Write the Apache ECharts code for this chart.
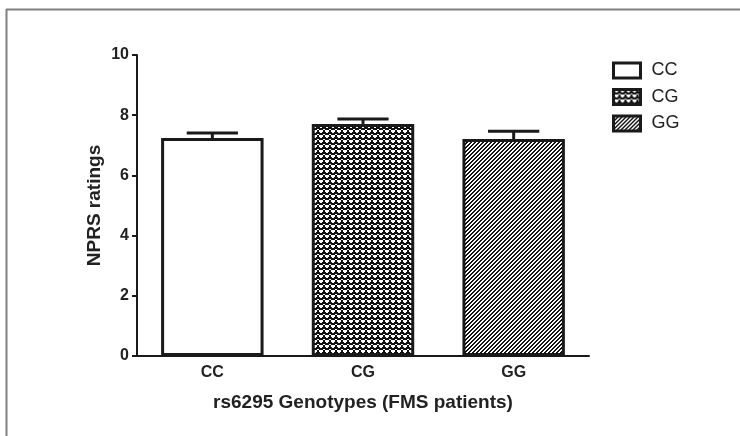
<!DOCTYPE html>
<html><head><meta charset="utf-8">
<script src="https://cdn.jsdelivr.net/npm/echarts@6/dist/echarts.min.js"></script>
<style>html,body{margin:0;padding:0;background:#fff}#c{width:740px;height:436px}</style>
</head><body><div id="c"></div>
<script>
var categories = ['CC', 'CG', 'GG'];
var means = [7.24, 7.71, 7.21];
var sems = [0.17, 0.16, 0.26];
var yTicks = [0, 2, 4, 6, 8, 10];
var xTitle = 'rs6295 Genotypes (FMS patients)';
var yTitle = 'NPRS ratings';

function tile(w, h, fn) {
  var c = document.createElement('canvas'); c.width = w; c.height = h;
  var ctx = c.getContext('2d');
  ctx.fillStyle = '#fff'; ctx.fillRect(0, 0, w, h);
  ctx.fillStyle = '#111';
  for (var y = 0; y < h; y++) for (var x = 0; x < w; x++) if (fn(x, y)) ctx.fillRect(x, y, 1, 1);
  return c;
}
var dotRows = [
  '.####.',
  '.####.',
  '..##..',
  '......',
  '#....#'
];
var dotTile = tile(6, 5, function (x, y) { return dotRows[y][x] !== '#'; });
var hatchTile = tile(4, 4, function (x, y) { return ((x + y) % 4) < 2; });
var fills = ['#ffffff', { image: dotTile, repeat: 'repeat' }, { image: hatchTile, repeat: 'repeat' }];

var barSeries = categories.map(function (name, i) {
  return {
    name: name, type: 'bar', barWidth: '68%', barGap: '-100%',
    data: categories.map(function (c, j) { return j === i ? means[j] : '-'; }),
    itemStyle: { color: fills[i], borderColor: '#1a1a1a', borderWidth: 3 },
    emphasis: { disabled: true }, animation: false
  };
});

var errData = categories.map(function (c, i) { return [i, means[i], means[i] + sems[i]]; });

var chart = echarts.init(document.getElementById('c'), null, { renderer: 'canvas' });
chart.setOption({
  animation: false,
  backgroundColor: '#fff',
  grid: { left: 137, right: 151, top: 55, bottom: 80 },
  legend: {
    orient: 'vertical', left: 612, top: 61.5, padding: 0, itemWidth: 27, itemHeight: 15, itemGap: 8.5,
    data: categories, icon: 'rect',
    itemStyle: { borderColor: '#1a1a1a', borderWidth: 3 },
    textStyle: { fontFamily: 'Liberation Sans', fontSize: 18, color: '#222', padding: [0, 0, 0, 6] }
  },
  xAxis: {
    type: 'category', data: categories,
    name: xTitle, nameLocation: 'middle', nameGap: 37,
    nameTextStyle: { fontFamily: 'Liberation Sans', fontWeight: 'bold', fontSize: 19, color: '#222' },
    axisLine: { lineStyle: { color: '#1a1a1a', width: 2 } },
    axisTick: { alignWithLabel: true, length: 5, lineStyle: { color: '#1a1a1a', width: 2 } },
    axisLabel: { fontFamily: 'Liberation Sans', fontWeight: 'bold', fontSize: 16, color: '#222', margin: 9 }
  },
  yAxis: {
    type: 'value', min: yTicks[0], max: yTicks[yTicks.length - 1], interval: 2,
    name: yTitle, nameLocation: 'middle', nameGap: 33, nameRotate: 90, nameMoveOverlap: false,
    nameTextStyle: { fontFamily: 'Liberation Sans', fontWeight: 'bold', fontSize: 19, color: '#222' },
    axisLine: { show: true, lineStyle: { color: '#1a1a1a', width: 2 } },
    axisTick: { show: true, length: 5, lineStyle: { color: '#1a1a1a', width: 2 } },
    axisLabel: { fontFamily: 'Liberation Sans', fontWeight: 'bold', fontSize: 16, color: '#222', margin: 8 },
    splitLine: { show: false }
  },
  series: barSeries.concat([{
    type: 'custom', name: 'err', data: errData, z: 1,
    renderItem: function (params, api) {
      var base = api.coord([api.value(0), api.value(1)]);
      var top = api.coord([api.value(0), api.value(2)]);
      var half = api.size([1, 0])[0] * 0.17;
      var st = { stroke: '#1a1a1a', lineWidth: 3 };
      return { type: 'group', children: [
        { type: 'line', shape: { x1: base[0], y1: base[1], x2: top[0], y2: top[1] }, style: st },
        { type: 'line', shape: { x1: top[0] - half, y1: top[1], x2: top[0] + half, y2: top[1] }, style: st }
      ] };
    }
  }]),
  graphic: [
    { type: 'line', shape: { x1: 6, y1: 9.5, x2: 740, y2: 9.5 }, style: { stroke: '#808080', lineWidth: 2 } },
    { type: 'line', shape: { x1: 6.5, y1: 9, x2: 6.5, y2: 436 }, style: { stroke: '#808080', lineWidth: 2 } }
  ]
});
</script></body></html>
